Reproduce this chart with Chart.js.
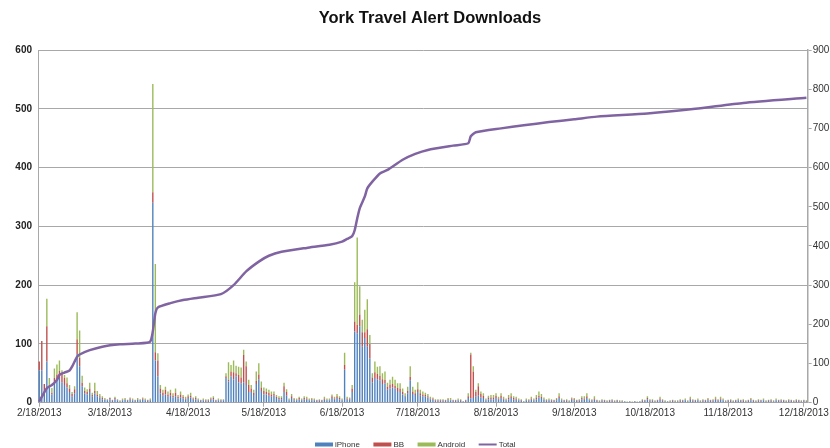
<!DOCTYPE html>
<html>
<head>
<meta charset="utf-8">
<script src="https://cdn.jsdelivr.net/npm/chart.js@4.4.1/dist/chart.umd.min.js"></script>
<style>
  html, body { margin: 0; padding: 0; background: #fff; }
</style>
</head>
<body>
<canvas id="downloadsChart" width="830" height="448"></canvas>
<script>
// daily downloads from 2/18/2013 to 12/19/2013, one value per day
const startDay = [2013, 1, 18];
const dayCount = 305;
const chartTitle = 'York Travel Alert Downloads';

const monthTicks = ['2/18/2013', '3/18/2013', '4/18/2013', '5/18/2013', '6/18/2013', '7/18/2013',
  '8/18/2013', '9/18/2013', '10/18/2013', '11/18/2013', '12/18/2013'];

const iphone = [
  55,55,18,70,26,14,36,38,42,35, 30,26,18,10,16,83,62,28,16,14,
  18,10,16,11,9,6,5,4,6,3, 6,4,2,4,5,3,5,4,
  3,5,4,5,4,3,4,340,72,45, 16,12,14,10,12,9,11,7,9,7,
  5,8,9,5,6,4,3,4,3, 3,5,6,3,4,3,4,42,36,45,
  40,45,35,33,35,30,18,18,13,32, 40,20,14,14,12,10,12,8,6,6,
  18,12,4,8,4,4,5,4,6, 5,4,4,4,3,3,3,5,4,
  4,8,5,8,6,4,56,5,5,18, 121,118,130,95,110,95,75,35,42,40,
  38,32,33,22,24,26,24,20,18,14, 10,16,38,15,13,18,12,11,10,9,
  6,5,3,3,3,3,3,4,4, 3,3,4,3,2,3,8,7,8,
  10,12,9,8,4,6,6,6,8,5, 8,5,4,6,8,5,5,4,3,2,
  4,3,5,4,6,9,8,5,3, 4,3,3,4,8,4,3,3,2,5,
  4,3,3,6,5,8,4,3,5,3, 2,3,3,2,3,3,2,3,2,
  2,2,1,2,1,2,1,2,3,3, 6,3,3,2,3,5,3,2,2,
  2,3,2,2,3,3,4,2,5,3, 3,4,2,3,3,4,3,3,5,3,
  5,4,2,3,3,2,3,4,3, 3,2,3,4,3,2,3,3,4,2,
  3,3,2,4,3,3,3,2,3, 3,2,3,3,2,3,2
];
const bb = [
  15,50,14,60,4,3,6,10,12,15, 12,7,6,5,7,25,14,6,4,4,
  6,3,4,3,2,2,1,1,2,1, 2,1,1,1,1,1,2,1,
  1,1,1,2,1,1,1,18,14,27, 8,5,8,4,5,3,6,3,5,3,
  2,3,3,2,2,1,1,1,1, 1,2,2,1,1,1,1,3,3,8,
  12,5,12,10,46,32,12,6,4,5, 8,6,6,4,5,4,3,2,2,2,
  10,6,1,3,2,1,3,1,2, 2,1,2,1,1,1,1,2,1,
  1,3,2,3,2,1,8,2,2,6, 17,14,20,25,10,30,25,8,10,9,
  8,8,6,5,7,6,5,5,6,4, 2,4,6,4,3,5,4,3,3,2,
  1,2,1,1,1,1,1,2,1, 1,1,1,1,0,1,3,75,45,
  8,16,6,4,1,3,3,3,4,2, 4,2,1,3,3,3,2,1,1,0,
  1,1,2,1,3,3,2,1,1, 1,1,1,2,3,1,1,1,1,2,
  2,1,1,2,2,3,1,1,2,1, 1,1,1,1,1,1,1,1,1,
  1,0,0,0,0,1,0,0,1,1, 2,1,1,1,1,2,1,1,0,
  1,1,1,1,1,1,1,1,2,1, 1,1,1,1,1,2,1,1,2,1,
  2,1,1,1,1,1,1,1,1, 1,1,1,2,1,1,1,1,1,1,
  1,1,1,1,1,1,1,1,1, 1,1,1,1,1,1,1
];
const android = [
  0,0,0,47,12,8,16,17,18,5, 5,10,6,3,5,46,47,12,6,5,
  10,4,14,6,4,3,2,1,1,1, 2,1,1,2,2,1,2,2,
  1,2,1,2,2,1,2,184,150,12, 6,5,5,5,5,4,7,3,5,3,
  3,3,5,2,3,2,1,2,2, 2,2,3,1,2,2,1,5,30,11,
  20,13,14,17,9,8,9,6,5,16, 19,10,6,6,5,5,4,3,3,3,
  6,5,2,4,2,2,2,2,3, 3,2,2,2,1,2,1,3,2,
  2,3,3,4,3,2,21,3,2,6, 67,149,48,21,38,51,15,7,18,12,
  16,10,14,7,8,12,10,8,9,6, 4,7,18,8,6,12,6,5,4,4,
  3,2,2,2,2,2,1,2,3, 1,1,2,2,1,1,5,3,9,
  4,5,4,4,2,3,4,4,4,3, 4,3,2,4,5,3,3,2,2,1,
  2,2,3,2,4,7,5,3,2, 2,2,1,2,5,2,1,2,1,2,
  2,1,2,3,4,5,2,2,4,1, 1,2,1,1,1,2,1,1,1,
  1,1,1,1,1,0,1,1,2,1, 3,2,2,1,1,3,2,1,1,
  1,1,1,1,2,1,2,1,3,2, 1,2,1,2,1,2,1,2,3,2,
  3,2,1,1,2,1,1,2,1, 2,1,1,2,1,1,2,1,2,1,
  1,2,1,2,1,2,1,1,2, 1,1,2,1,1,1,1
];

// running total (right axis), read at selected days
const totalDays = [0, 3, 5, 7, 8, 10, 12, 13, 14, 15, 16, 20, 25, 32, 38, 44, 46, 47, 52, 57, 63,
  72, 77, 82, 87, 91, 96, 106, 115, 120, 122, 124, 125, 126, 127, 129, 130, 132, 135, 138,
  144, 149, 154, 164, 170, 171, 173, 183, 192, 202, 212, 221, 241, 260, 279, 304];
const totalValues = [3, 37, 45, 58, 71, 77, 82, 92, 105, 117, 123, 134, 143, 149, 151, 156, 228, 243, 254, 262, 268,
  277, 300, 335, 360, 375, 385, 395, 403, 411, 418, 425, 440, 470, 496, 526, 547, 564, 585, 594,
  620, 635, 645, 656, 662, 680, 690, 700, 708, 716, 723, 730, 738, 750, 765, 778];

const dayLabels = [];
for (let i = 0; i < dayCount; i++) {
  const dt = new Date(startDay[0], startDay[1], startDay[2] + i);
  dayLabels.push((dt.getMonth() + 1) + '/' + dt.getDate() + '/' + dt.getFullYear());
}

const FONT = "'Liberation Sans', Arial, sans-serif";
const AXIS_GREY = '#a8a8a8';
const colors = { iphone: '#4F81BD', bb: '#C0504D', android: '#9BBB59', total: '#8064A2' };

// title above the plot and legend under the x axis labels
const titleAndLegend = {
  id: 'titleAndLegend',
  afterDraw(chart) {
    const ctx = chart.ctx;
    ctx.save();
    ctx.fillStyle = '#111';
    ctx.font = 'bold 16.5px ' + FONT;
    ctx.textAlign = 'center';
    ctx.textBaseline = 'middle';
    ctx.fillText(chartTitle, 430, 18);

    const items = chart.data.datasets.map(ds => ({ text: ds.label, color: ds.borderColor || ds.backgroundColor, line: ds.type === 'line' }));
    ctx.font = '8px ' + FONT;
    ctx.textAlign = 'left';
    const boxW = 18, gap = 2, spacing = 13.5;
    let width = 0;
    items.forEach((it, i) => { width += boxW + gap + ctx.measureText(it.text).width + (i < items.length - 1 ? spacing : 0); });
    let x = Math.round(chart.width / 2 - width / 2);
    const y = 444.5;
    items.forEach(it => {
      if (it.line) {
        ctx.strokeStyle = it.color;
        ctx.lineWidth = 2;
        ctx.beginPath();
        ctx.moveTo(x, y);
        ctx.lineTo(x + boxW, y);
        ctx.stroke();
      } else {
        ctx.fillStyle = it.color;
        ctx.fillRect(x, y - 2, boxW, 4);
      }
      x += boxW + gap;
      ctx.fillStyle = '#333';
      ctx.fillText(it.text, x, y);
      x += ctx.measureText(it.text).width + spacing;
    });
    ctx.restore();
  }
};

const ctx = document.getElementById('downloadsChart').getContext('2d');
new Chart(ctx, {
  data: {
    labels: dayLabels,
    datasets: [
      { type: 'bar', label: 'iPhone', data: iphone, backgroundColor: colors.iphone, yAxisID: 'y', order: 2 },
      { type: 'bar', label: 'BB', data: bb, backgroundColor: colors.bb, yAxisID: 'y', order: 2 },
      { type: 'bar', label: 'Android', data: android, backgroundColor: colors.android, yAxisID: 'y', order: 2 },
      {
        type: 'line', label: 'Total', yAxisID: 'y1', order: 1,
        data: totalDays.map((d, i) => ({ x: dayLabels[d], y: totalValues[i] })),
        borderColor: colors.total, backgroundColor: colors.total, borderWidth: 2.5,
        pointRadius: 0, tension: 0.2, fill: false
      }
    ]
  },
  options: {
    responsive: false,
    animation: false,
    devicePixelRatio: 1,
    layout: { padding: { top: 50, bottom: 25.3, left: 0, right: 0 } },
    datasets: { bar: { categoryPercentage: 1, barPercentage: 0.55 } },
    plugins: {
      legend: { display: false },
      tooltip: { enabled: false },
      title: { display: false }
    },
    scales: {
      x: {
        stacked: true,
        grid: { display: true, drawOnChartArea: false, offset: false, tickLength: 4, color: AXIS_GREY },
        border: { color: AXIS_GREY },
        ticks: {
          autoSkip: false, maxRotation: 0, minRotation: 0, padding: 1,
          color: '#333', font: { family: FONT, size: 10 },
          callback: function (value) {
            const label = this.getLabelForValue(value);
            return monthTicks.includes(label) ? label : null;
          }
        },
        afterFit: s => { s.height = 20; }
      },
      y: {
        position: 'left', stacked: true, min: 0, max: 600,
        grid: { color: AXIS_GREY, drawTicks: false },
        border: { color: AXIS_GREY },
        ticks: { stepSize: 100, padding: 6, color: '#222', font: { family: FONT, size: 10, weight: 'bold' } },
        afterFit: s => { s.width = 38; }
      },
      y1: {
        position: 'right', min: 0, max: 900,
        grid: { drawOnChartArea: false, tickLength: 4, color: AXIS_GREY },
        border: { color: AXIS_GREY, width: 1.5 },
        ticks: { stepSize: 100, padding: 1, color: '#333', font: { family: FONT, size: 10 } },
        afterFit: s => { s.width = 22; }
      }
    }
  },
  plugins: [titleAndLegend]
});
</script>
</body>
</html>
